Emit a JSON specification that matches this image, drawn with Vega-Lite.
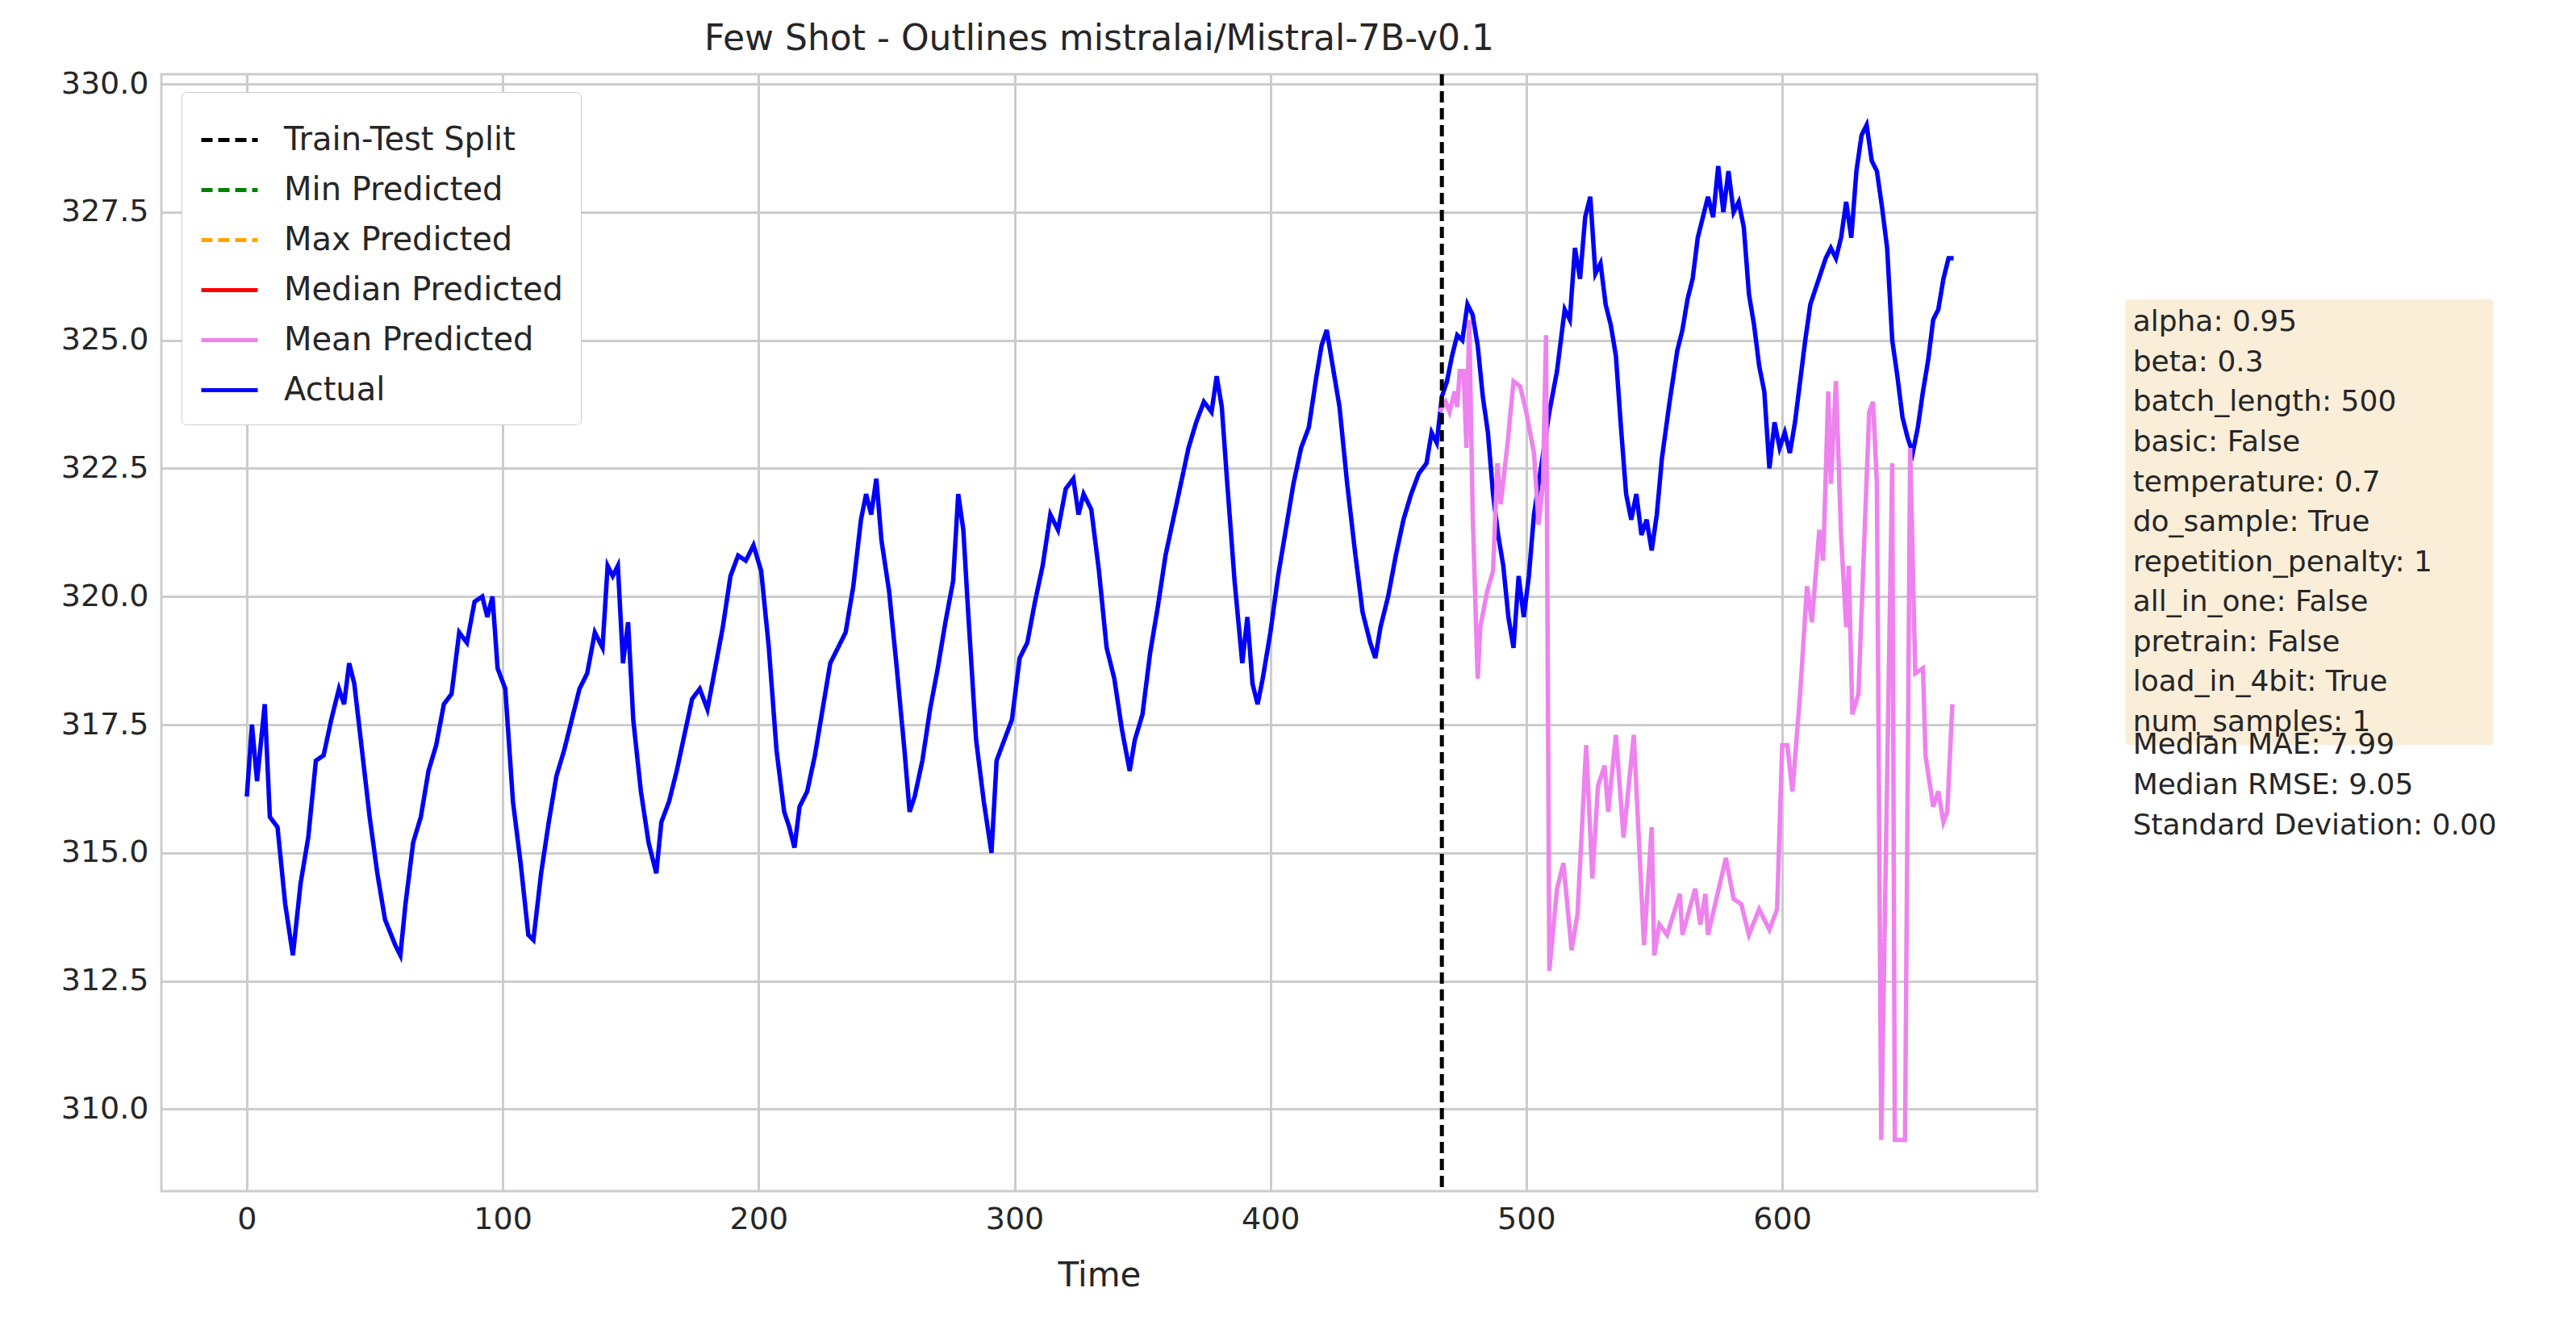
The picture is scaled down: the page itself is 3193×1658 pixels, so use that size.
{
  "$schema": "https://vega.github.io/schema/vega-lite/v6.json",
  "autosize": "none",
  "width": 2325,
  "height": 1384,
  "padding": {"left": 200, "top": 92, "right": 668, "bottom": 182},
  "background": "white",
  "title": {"text": "Few Shot - Outlines mistralai/Mistral-7B-v0.1", "fontSize": 44, "fontWeight": "normal", "color": "#262626", "font": "DejaVu Sans", "offset": 14},
  "config": {
    "font": "DejaVu Sans",
    "view": {"stroke": "#cccccc", "strokeWidth": 3},
    "axis": {"grid": true, "gridColor": "#cccccc", "gridWidth": 3, "domain": false, "ticks": false, "labelFontSize": 38, "labelColor": "#262626", "titleFontSize": 42, "titleColor": "#262626", "titleFontWeight": "normal", "labelPadding": 16, "titlePadding": 30}
  },
  "datasets": {
    "actual": [
      {"t":0,"v":316.1},{"t":2,"v":317.5},{"t":4,"v":316.4},{"t":7,"v":317.9},{"t":9,"v":315.7},{"t":12,"v":315.5},{"t":15,"v":314.0},{"t":18,"v":313.0},{"t":21,"v":314.4},{"t":24,"v":315.3},{"t":27,"v":316.8},{"t":30,"v":316.9},{"t":33,"v":317.6},{"t":36,"v":318.2},{"t":38,"v":317.9},{"t":40,"v":318.7},{"t":42,"v":318.3},{"t":45,"v":317.0},{"t":48,"v":315.7},{"t":51,"v":314.6},{"t":54,"v":313.7},{"t":58,"v":313.2},{"t":60,"v":313.0},{"t":62,"v":314.0},{"t":65,"v":315.2},{"t":68,"v":315.7},{"t":71,"v":316.6},{"t":74,"v":317.1},{"t":77,"v":317.9},{"t":80,"v":318.1},{"t":83,"v":319.3},{"t":86,"v":319.1},{"t":89,"v":319.9},{"t":92,"v":320.0},{"t":94,"v":319.6},{"t":96,"v":320.0},{"t":98,"v":318.6},{"t":101,"v":318.2},{"t":104,"v":316.0},{"t":107,"v":314.8},{"t":110,"v":313.4},{"t":112,"v":313.3},{"t":115,"v":314.6},{"t":118,"v":315.6},{"t":121,"v":316.5},{"t":124,"v":317.0},{"t":127,"v":317.6},{"t":130,"v":318.2},{"t":133,"v":318.5},{"t":136,"v":319.3},{"t":139,"v":319.0},{"t":141,"v":320.6},{"t":143,"v":320.4},{"t":145,"v":320.6},{"t":147,"v":318.7},{"t":149,"v":319.5},{"t":151,"v":317.6},{"t":154,"v":316.2},{"t":157,"v":315.2},{"t":160,"v":314.6},{"t":162,"v":315.6},{"t":165,"v":316.0},{"t":168,"v":316.6},{"t":171,"v":317.3},{"t":174,"v":318.0},{"t":177,"v":318.2},{"t":180,"v":317.8},{"t":183,"v":318.6},{"t":186,"v":319.4},{"t":189,"v":320.4},{"t":192,"v":320.8},{"t":195,"v":320.7},{"t":198,"v":321.0},{"t":201,"v":320.5},{"t":204,"v":319.0},{"t":207,"v":317.0},{"t":210,"v":315.8},{"t":212,"v":315.5},{"t":214,"v":315.1},{"t":216,"v":315.9},{"t":219,"v":316.2},{"t":222,"v":316.9},{"t":225,"v":317.8},{"t":228,"v":318.7},{"t":231,"v":319.0},{"t":234,"v":319.3},{"t":237,"v":320.2},{"t":240,"v":321.5},{"t":242,"v":322.0},{"t":244,"v":321.6},{"t":246,"v":322.3},{"t":248,"v":321.1},{"t":251,"v":320.1},{"t":254,"v":318.6},{"t":257,"v":317.0},{"t":259,"v":315.8},{"t":261,"v":316.1},{"t":264,"v":316.8},{"t":267,"v":317.8},{"t":270,"v":318.6},{"t":273,"v":319.5},{"t":276,"v":320.3},{"t":278,"v":322.0},{"t":280,"v":321.3},{"t":282,"v":319.6},{"t":285,"v":317.2},{"t":288,"v":316.0},{"t":291,"v":315.0},{"t":293,"v":316.8},{"t":296,"v":317.2},{"t":299,"v":317.6},{"t":302,"v":318.8},{"t":305,"v":319.1},{"t":308,"v":319.9},{"t":311,"v":320.6},{"t":314,"v":321.6},{"t":317,"v":321.3},{"t":320,"v":322.1},{"t":323,"v":322.3},{"t":325,"v":321.6},{"t":327,"v":322.0},{"t":330,"v":321.7},{"t":333,"v":320.5},{"t":336,"v":319.0},{"t":339,"v":318.4},{"t":342,"v":317.4},{"t":345,"v":316.6},{"t":347,"v":317.2},{"t":350,"v":317.7},{"t":353,"v":318.9},{"t":356,"v":319.8},{"t":359,"v":320.8},{"t":362,"v":321.5},{"t":365,"v":322.2},{"t":368,"v":322.9},{"t":371,"v":323.4},{"t":374,"v":323.8},{"t":377,"v":323.6},{"t":379,"v":324.3},{"t":381,"v":323.7},{"t":383,"v":322.3},{"t":386,"v":320.3},{"t":389,"v":318.7},{"t":391,"v":319.6},{"t":393,"v":318.3},{"t":395,"v":317.9},{"t":397,"v":318.4},{"t":400,"v":319.3},{"t":403,"v":320.4},{"t":406,"v":321.3},{"t":409,"v":322.2},{"t":412,"v":322.9},{"t":415,"v":323.3},{"t":418,"v":324.3},{"t":420,"v":324.9},{"t":422,"v":325.2},{"t":424,"v":324.6},{"t":427,"v":323.7},{"t":430,"v":322.2},{"t":433,"v":320.9},{"t":436,"v":319.7},{"t":439,"v":319.1},{"t":441,"v":318.8},{"t":443,"v":319.4},{"t":446,"v":320.0},{"t":449,"v":320.8},{"t":452,"v":321.5},{"t":455,"v":322.0},{"t":458,"v":322.4},{"t":461,"v":322.6},{"t":463,"v":323.2},{"t":465,"v":323.0},{"t":467,"v":323.9},{"t":469,"v":324.2},{"t":471,"v":324.7},{"t":473,"v":325.1},{"t":475,"v":325.0},{"t":477,"v":325.7},{"t":479,"v":325.5},{"t":481,"v":324.9},{"t":483,"v":323.9},{"t":485,"v":323.2},{"t":487,"v":322.0},{"t":489,"v":321.2},{"t":491,"v":320.6},{"t":493,"v":319.6},{"t":495,"v":319.0},{"t":497,"v":320.4},{"t":499,"v":319.6},{"t":501,"v":320.4},{"t":503,"v":321.6},{"t":506,"v":322.6},{"t":509,"v":323.6},{"t":512,"v":324.4},{"t":515,"v":325.6},{"t":517,"v":325.4},{"t":519,"v":326.8},{"t":521,"v":326.2},{"t":523,"v":327.4},{"t":525,"v":327.8},{"t":527,"v":326.3},{"t":529,"v":326.5},{"t":531,"v":325.7},{"t":533,"v":325.3},{"t":535,"v":324.7},{"t":537,"v":323.3},{"t":539,"v":322.0},{"t":541,"v":321.5},{"t":543,"v":322.0},{"t":545,"v":321.2},{"t":547,"v":321.5},{"t":549,"v":320.9},{"t":551,"v":321.6},{"t":553,"v":322.7},{"t":556,"v":323.8},{"t":559,"v":324.8},{"t":561,"v":325.2},{"t":563,"v":325.8},{"t":565,"v":326.2},{"t":567,"v":327.0},{"t":569,"v":327.4},{"t":571,"v":327.8},{"t":573,"v":327.4},{"t":575,"v":328.4},{"t":577,"v":327.5},{"t":579,"v":328.3},{"t":581,"v":327.5},{"t":583,"v":327.7},{"t":585,"v":327.2},{"t":587,"v":325.9},{"t":589,"v":325.3},{"t":591,"v":324.5},{"t":593,"v":324.0},{"t":595,"v":322.5},{"t":597,"v":323.4},{"t":599,"v":322.9},{"t":601,"v":323.2},{"t":603,"v":322.8},{"t":605,"v":323.4},{"t":607,"v":324.2},{"t":609,"v":325.0},{"t":611,"v":325.7},{"t":613,"v":326.0},{"t":615,"v":326.3},{"t":617,"v":326.6},{"t":619,"v":326.8},{"t":621,"v":326.6},{"t":623,"v":327.0},{"t":625,"v":327.7},{"t":627,"v":327.0},{"t":629,"v":328.3},{"t":631,"v":329.0},{"t":633,"v":329.2},{"t":635,"v":328.5},{"t":637,"v":328.3},{"t":639,"v":327.6},{"t":641,"v":326.8},{"t":643,"v":325.0},{"t":645,"v":324.3},{"t":647,"v":323.5},{"t":649,"v":323.1},{"t":651,"v":322.8},{"t":653,"v":323.3},{"t":655,"v":324.0},{"t":657,"v":324.6},{"t":659,"v":325.4},{"t":661,"v":325.6},{"t":663,"v":326.2},{"t":665,"v":326.6},{"t":667,"v":326.6}
    ],
    "mean": [
      {"t":466,"v":323.6},{"t":468.5,"v":323.8},{"t":470,"v":323.6},{"t":472,"v":324.0},{"t":473,"v":323.7},{"t":474,"v":324.4},{"t":475.5,"v":324.4},{"t":476.6,"v":322.9},{"t":477.7,"v":325.4},{"t":479,"v":321.7},{"t":481,"v":318.4},{"t":482,"v":319.4},{"t":484.7,"v":320.1},{"t":487,"v":320.5},{"t":488.7,"v":322.6},{"t":490,"v":321.8},{"t":492.7,"v":323.0},{"t":495,"v":324.2},{"t":497.6,"v":324.1},{"t":500,"v":323.6},{"t":503,"v":322.8},{"t":504.8,"v":321.4},{"t":506.5,"v":322.2},{"t":507.7,"v":325.1},{"t":509,"v":312.7},{"t":512,"v":314.3},{"t":514.5,"v":314.8},{"t":517.7,"v":313.1},{"t":520,"v":313.8},{"t":523.4,"v":317.1},{"t":525.8,"v":314.5},{"t":528,"v":316.3},{"t":530.6,"v":316.7},{"t":532,"v":315.8},{"t":535,"v":317.3},{"t":538,"v":315.3},{"t":542,"v":317.3},{"t":546,"v":313.2},{"t":549,"v":315.5},{"t":550,"v":313.0},{"t":552,"v":313.6},{"t":555,"v":313.4},{"t":560,"v":314.2},{"t":561,"v":313.4},{"t":566,"v":314.3},{"t":568,"v":313.6},{"t":570,"v":314.2},{"t":571,"v":313.4},{"t":578,"v":314.9},{"t":581,"v":314.1},{"t":584,"v":314.0},{"t":587,"v":313.4},{"t":591,"v":313.9},{"t":595,"v":313.5},{"t":598,"v":313.9},{"t":600,"v":317.1},{"t":602,"v":317.1},{"t":604,"v":316.2},{"t":607,"v":318.1},{"t":609.7,"v":320.2},{"t":611.6,"v":319.5},{"t":614.5,"v":321.3},{"t":616,"v":320.7},{"t":618,"v":324.0},{"t":619,"v":322.2},{"t":621,"v":324.2},{"t":623,"v":321.2},{"t":625,"v":319.4},{"t":626,"v":320.6},{"t":627.4,"v":317.7},{"t":629.8,"v":318.1},{"t":632,"v":321.0},{"t":634,"v":323.6},{"t":635.5,"v":323.8},{"t":637,"v":322.2},{"t":638.7,"v":309.4},{"t":643,"v":322.6},{"t":644,"v":309.4},{"t":648,"v":309.4},{"t":650,"v":322.9},{"t":652,"v":318.5},{"t":655,"v":318.6},{"t":656,"v":316.9},{"t":659,"v":315.9},{"t":661,"v":316.2},{"t":663,"v":315.6},{"t":664.5,"v":315.8},{"t":666.5,"v":317.9}
    ],
    "info": [
      {"t":737,"v":325.35,"label":"alpha: 0.95"},
      {"t":737,"v":324.57,"label":"beta: 0.3"},
      {"t":737,"v":323.79,"label":"batch_length: 500"},
      {"t":737,"v":323.01,"label":"basic: False"},
      {"t":737,"v":322.23,"label":"temperature: 0.7"},
      {"t":737,"v":321.45,"label":"do_sample: True"},
      {"t":737,"v":320.67,"label":"repetition_penalty: 1"},
      {"t":737,"v":319.89,"label":"all_in_one: False"},
      {"t":737,"v":319.11,"label":"pretrain: False"},
      {"t":737,"v":318.33,"label":"load_in_4bit: True"},
      {"t":737,"v":317.55,"label":"num_samples: 1"}
    ],
    "metrics": [
      {"t":737,"v":317.1,"label":"Median MAE: 7.99"},
      {"t":737,"v":316.32,"label":"Median RMSE: 9.05"},
      {"t":737,"v":315.54,"label":"Standard Deviation: 0.00"}
    ]
  },
  "layer": [
    {
      "data": {"values": [{"x1": 734, "x2": 878, "y1": 317.1, "y2": 325.8}]},
      "mark": {"type": "rect", "color": "#f5deb3", "opacity": 0.5, "cornerRadius": 6, "clip": false},
      "encoding": {
        "x": {"field": "x1", "type": "quantitative"},
        "x2": {"field": "x2"},
        "y": {"field": "y1", "type": "quantitative"},
        "y2": {"field": "y2"}
      }
    },
    {
      "data": {"name": "actual"},
      "transform": [{"calculate": "'Actual'", "as": "series"}],
      "mark": {"type": "line", "strokeWidth": 5.5},
      "encoding": {
        "x": {"field": "t", "type": "quantitative"},
        "y": {"field": "v", "type": "quantitative"},
        "color": {"field": "series", "type": "nominal"},
        "strokeDash": {"field": "series", "type": "nominal"}
      }
    },
    {
      "data": {"name": "mean"},
      "transform": [{"calculate": "'Mean Predicted'", "as": "series"}],
      "mark": {"type": "line", "strokeWidth": 5.5},
      "encoding": {
        "x": {"field": "t", "type": "quantitative"},
        "y": {"field": "v", "type": "quantitative"},
        "color": {"field": "series", "type": "nominal"},
        "strokeDash": {"field": "series", "type": "nominal"}
      }
    },
    {
      "data": {"values": [{"t": 467, "series": "Train-Test Split"}]},
      "mark": {"type": "rule", "strokeWidth": 5},
      "encoding": {
        "x": {"field": "t", "type": "quantitative", "scale": {"domain": [-33.4, 699.6], "nice": false, "zero": false}, "axis": {"values": [0,100,200,300,400,500,600]}, "title": "Time"},
        "color": {"field": "series", "type": "nominal",
          "scale": {"domain": ["Train-Test Split","Min Predicted","Max Predicted","Median Predicted","Mean Predicted","Actual"], "range": ["#000000","#008000","#ffa500","#ff0000","#ee82ee","#0000ff"]},
          "legend": {"title": null, "orient": "none", "legendX": 25, "legendY": 22, "symbolType": "stroke", "symbolSize": 4900, "symbolStrokeWidth": 5, "labelFontSize": 40, "labelLimit": 800, "labelColor": "#262626", "rowPadding": 4, "padding": 22, "fillColor": "white", "strokeColor": "#cccccc", "cornerRadius": 6, "labelOffset": 30}
        },
        "strokeDash": {"field": "series", "type": "nominal",
          "scale": {"domain": ["Train-Test Split","Min Predicted","Max Predicted","Median Predicted","Mean Predicted","Actual"], "range": [[14,7],[14,7],[14,7],[1,0],[1,0],[1,0]]},
          "legend": {"title": null, "orient": "none", "legendX": 25, "legendY": 22, "symbolType": "stroke", "symbolSize": 4900, "symbolStrokeWidth": 5, "labelFontSize": 40, "labelLimit": 800, "labelColor": "#262626", "rowPadding": 4, "padding": 22, "fillColor": "white", "strokeColor": "#cccccc", "cornerRadius": 6, "labelOffset": 30}
        }
      }
    },
    {
      "data": {"name": "info"},
      "mark": {"type": "text", "align": "left", "baseline": "middle", "fontSize": 36, "color": "#262626", "clip": false},
      "encoding": {
        "x": {"field": "t", "type": "quantitative"},
        "y": {"field": "v", "type": "quantitative", "scale": {"domain": [308.4, 330.19], "nice": false, "zero": false}, "axis": {"values": [310,312.5,315,317.5,320,322.5,325,327.5,330], "format": ".1f"}, "title": null},
        "text": {"field": "label"}
      }
    },
    {
      "data": {"name": "metrics"},
      "mark": {"type": "text", "align": "left", "baseline": "middle", "fontSize": 36, "color": "#262626", "clip": false},
      "encoding": {
        "x": {"field": "t", "type": "quantitative"},
        "y": {"field": "v", "type": "quantitative"},
        "text": {"field": "label"}
      }
    }
  ]
}
